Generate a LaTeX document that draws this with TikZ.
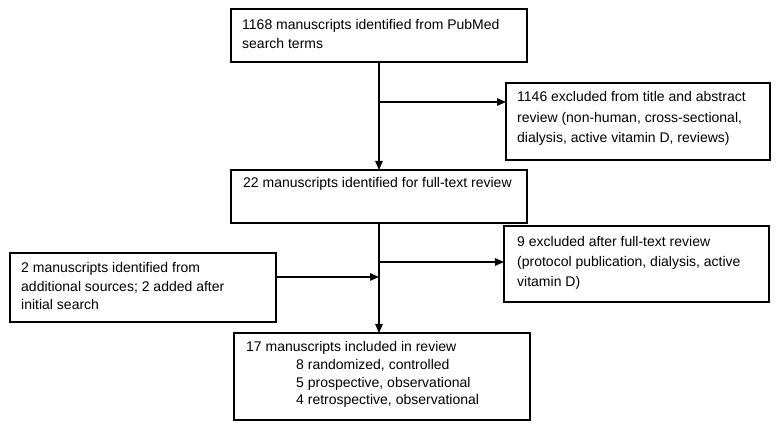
\documentclass[tikz,border=0pt]{standalone}
\usepackage{fontspec}
\setmainfont{Liberation Sans}
\usetikzlibrary{arrows.meta}
\begin{document}
\begin{tikzpicture}[x=1pt,y=-1pt,
  box/.style={draw, line width=1.1pt, inner sep=0pt, outer sep=0pt, anchor=north west},
  txt/.style={anchor=base west, inner sep=0pt, align=left},
  arr/.style={line width=1.2pt, -{Triangle[length=9pt,width=7.5pt]}}]
\useasboundingbox (0,0) rectangle (780,430);
% boxes
\node[box, minimum width=296pt, minimum height=53pt] (b1) at (231,9) {};
\node[box, minimum width=264pt, minimum height=77pt] (b2) at (506,83) {};
\node[box, minimum width=296pt, minimum height=53pt] (b3) at (231,170) {};
\node[box, minimum width=266pt, minimum height=69pt] (b4) at (10,253) {};
\node[box, minimum width=265pt, minimum height=76pt] (b5) at (504,226) {};
\node[box, minimum width=296pt, minimum height=87pt] (b6) at (234,333) {};
% texts (anchored at the baseline of their last line)
\node[txt, font=\fontsize{14}{18.5}\selectfont] (t1) at (242,48.5)
  {1168 manuscripts identified from PubMed\\search terms};
\node[txt, font=\fontsize{14}{20.5}\selectfont] (t2) at (517,143)
  {1146 excluded from title and abstract\\review (non-human, cross-sectional,\\dialysis, active vitamin D, reviews)};
\node[txt, font=\fontsize{14}{18.5}\selectfont] (t3) at (243,188)
  {22 manuscripts identified for full-text review};
\node[txt, font=\fontsize{14}{18.5}\selectfont] (t4) at (21,310)
  {2 manuscripts identified from\\additional sources; 2 added after\\initial search};
\node[txt, font=\fontsize{14}{20}\selectfont] (t5) at (517,287)
  {9 excluded after full-text review\\(protocol publication, dialysis, active\\vitamin D)};
\node[txt, font=\fontsize{14}{17.6}\selectfont] (t6) at (246,404.8)
  {17 manuscripts included in review\\
   \hspace*{50pt}8 randomized, controlled\\
   \hspace*{50pt}5 prospective, observational\\
   \hspace*{50pt}4 retrospective, observational};
% connectors
\coordinate (j1) at (379,102);
\coordinate (j2) at (379,262);
\coordinate (j3) at (379,277);
\draw[arr] (b1.south) -- (b3.north);
\draw[arr] (j1) -- (j1 -| b2.west);
\draw[arr] (b3.south) -- (b3.south |- b6.north);
\draw[arr] (j2) -- (j2 -| b5.west);
\draw[arr] (b4.east |- j3) -- (j3);
\end{tikzpicture}
\end{document}
